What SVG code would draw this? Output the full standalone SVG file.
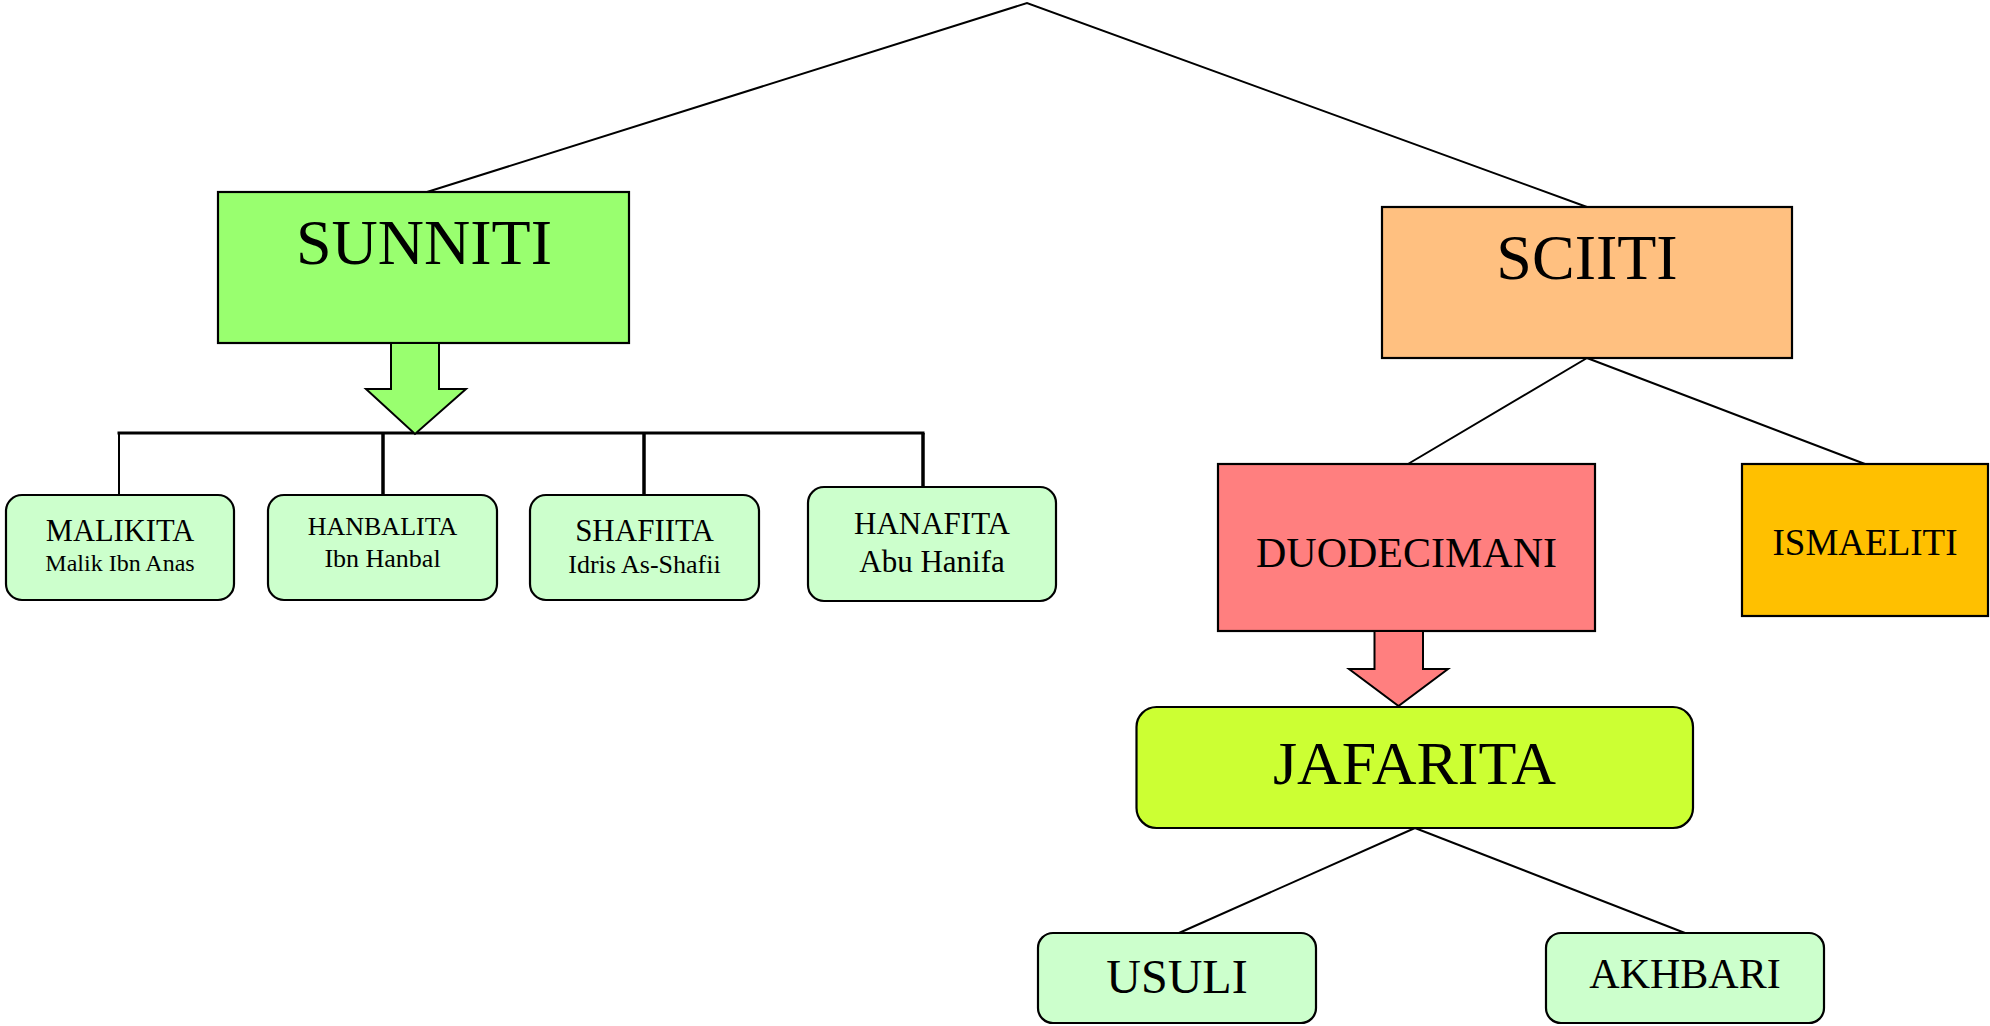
<svg xmlns="http://www.w3.org/2000/svg" width="1990" height="1026" viewBox="0 0 1990 1026">
<style>
.box{stroke:#000;stroke-width:2.2}
.lg{fill:#CCFFCC}
.t{font-family:"Liberation Serif","Times New Roman",serif;fill:#000;text-anchor:middle}
.ln{stroke:#000;stroke-width:2;fill:none}
.lt{stroke:#000;stroke-width:3.5;fill:none}
</style>
<rect width="1990" height="1026" fill="#fff"/>
<g id="connectors">
<polyline class="ln" points="427,192 1027,3 1587,207"/>
<line class="ln" x1="1587" y1="358" x2="1408" y2="464"/>
<line class="ln" x1="1587" y1="358" x2="1865" y2="464"/>
<line class="ln" x1="1415" y1="828" x2="1179" y2="933"/>
<line class="ln" x1="1415" y1="828" x2="1685" y2="933"/>
<line class="lt" x1="117.5" y1="433" x2="924.5" y2="433" style="stroke-width:3"/>
<line class="ln" x1="119" y1="433" x2="119" y2="495"/>
<line class="lt" x1="383" y1="433" x2="383" y2="495"/>
<line class="lt" x1="644" y1="433" x2="644" y2="495"/>
<line class="lt" x1="923" y1="433" x2="923" y2="495"/>
</g>
<g id="sunniti">
<rect class="box" x="218" y="192" width="411" height="151" fill="#99FF6F"/>
<text class="t" x="424" y="264" font-size="64">SUNNITI</text>
</g>
<g id="arrow-sunniti">
<polygon class="box" points="391,343 439,343 439,389 466,389 415,434 366,389 391,389" fill="#99FF6F" style="stroke-width:2"/>
</g>
<g id="malikita">
<rect class="box lg" x="6" y="495" width="228" height="105" rx="16"/>
<text class="t" x="120" y="541" font-size="30.5">MALIKITA</text>
<text class="t" x="120" y="571" font-size="24">Malik Ibn Anas</text>
</g>
<g id="hanbalita">
<rect class="box lg" x="268" y="495" width="229" height="105" rx="16"/>
<text class="t" x="382.5" y="535" font-size="26">HANBALITA</text>
<text class="t" x="382.5" y="567" font-size="26">Ibn Hanbal</text>
</g>
<g id="shafiita">
<rect class="box lg" x="530" y="495" width="229" height="105" rx="16"/>
<text class="t" x="644.5" y="541" font-size="31">SHAFIITA</text>
<text class="t" x="644.5" y="573" font-size="26">Idris As-Shafii</text>
</g>
<g id="hanafita">
<rect class="box lg" x="808" y="487" width="248" height="114" rx="16"/>
<text class="t" x="932" y="534" font-size="31">HANAFITA</text>
<text class="t" x="932" y="572" font-size="31">Abu Hanifa</text>
</g>
<g id="sciiti">
<rect class="box" x="1382" y="207" width="410" height="151" fill="#FFC080"/>
<text class="t" x="1587" y="279" font-size="64">SCIITI</text>
</g>
<g id="duodecimani">
<rect class="box" x="1218" y="464" width="377" height="167" fill="#FF7F7F"/>
<text class="t" x="1406.5" y="567" font-size="42">DUODECIMANI</text>
</g>
<g id="ismaeliti">
<rect class="box" x="1742" y="464" width="246" height="152" fill="#FFC000"/>
<text class="t" x="1865" y="555" font-size="37">ISMAELITI</text>
</g>
<g id="arrow-duodecimani">
<polygon class="box" points="1374.5,631 1423,631 1423,669 1448,669 1398.5,706 1349,669 1374.5,669" fill="#FF7F7F" style="stroke-width:2"/>
</g>
<g id="jafarita">
<rect class="box" x="1136.5" y="707" width="556.5" height="121" rx="20" fill="#CCFF33"/>
<text class="t" x="1414.5" y="784" font-size="62">JAFARITA</text>
</g>
<g id="usuli">
<rect class="box lg" x="1038" y="933" width="278" height="90" rx="15"/>
<text class="t" x="1177" y="993" font-size="48">USULI</text>
</g>
<g id="akhbari">
<rect class="box lg" x="1546" y="933" width="278" height="90" rx="15"/>
<text class="t" x="1685" y="988" font-size="42">AKHBARI</text>
</g>
</svg>
